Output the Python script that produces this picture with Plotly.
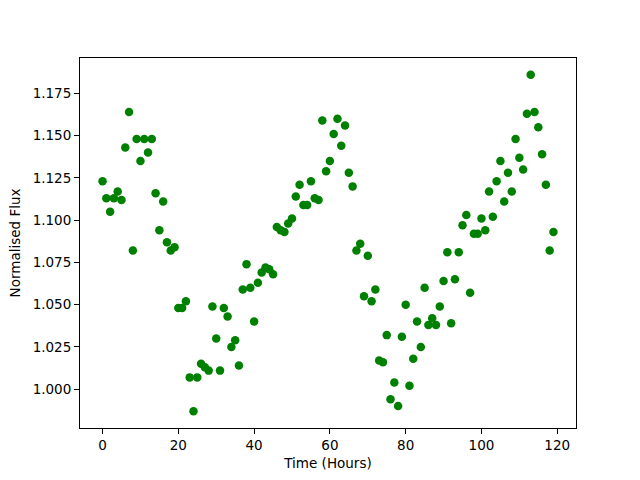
import plotly.graph_objects as go

hours = list(range(120))
flux = [
    1.123, 1.113, 1.105, 1.113, 1.117, 1.112, 1.143, 1.164, 1.082, 1.148,
    1.135, 1.148, 1.140, 1.148, 1.116, 1.094, 1.111, 1.087, 1.082, 1.084,
    1.048, 1.048, 1.052, 1.007, 0.987, 1.007, 1.015, 1.013, 1.011, 1.049,
    1.030, 1.011, 1.048, 1.043, 1.025, 1.029, 1.014, 1.059, 1.074, 1.060,
    1.040, 1.063, 1.069, 1.072, 1.071, 1.068, 1.096, 1.094, 1.093, 1.098,
    1.101, 1.114, 1.121, 1.109, 1.109, 1.123, 1.113, 1.112, 1.159, 1.129,
    1.135, 1.151, 1.160, 1.144, 1.156, 1.128, 1.120, 1.082, 1.086, 1.055,
    1.079, 1.052, 1.059, 1.017, 1.016, 1.032, 0.994, 1.004, 0.990, 1.031,
    1.050, 1.002, 1.018, 1.040, 1.025, 1.060, 1.038, 1.042, 1.038, 1.049,
    1.064, 1.081, 1.039, 1.065, 1.081, 1.097, 1.103, 1.057, 1.092, 1.092,
    1.101, 1.094, 1.117, 1.102, 1.123, 1.135, 1.111, 1.128, 1.117, 1.148,
    1.137, 1.130, 1.163, 1.186, 1.164, 1.155, 1.139, 1.121, 1.082, 1.093,
]
x_ticks = [0, 20, 40, 60, 80, 100, 120]
y_ticks = [1.000, 1.025, 1.050, 1.075, 1.100, 1.125, 1.150, 1.175]

xmin, xmax = min(hours), max(hours)
ymin, ymax = min(flux), max(flux)
xpad = (xmax - xmin) * 0.05
ypad = (ymax - ymin) * 0.05

fig = go.Figure(go.Scatter(
    x=hours, y=flux, mode="markers",
    marker=dict(color="#008000", size=8.5, line=dict(width=0)),
))

font = dict(family="DejaVu Sans", size=13.5, color="black")
axis_common = dict(
    showgrid=False, zeroline=False, showline=True, linecolor="black",
    linewidth=1, mirror=True, ticks="outside", ticklen=5, tickwidth=1,
    tickcolor="black", tickfont=font,
)
fig.update_xaxes(range=[xmin - xpad, xmax + xpad], tickvals=x_ticks,
                 title=dict(text="Time (Hours)", font=font, standoff=6),
                 **axis_common)
fig.update_yaxes(range=[ymin - ypad, ymax + ypad], tickvals=y_ticks,
                 tickformat=".3f",
                 title=dict(text="Normalised Flux", font=font, standoff=8),
                 **axis_common)
fig.update_layout(
    width=640, height=480, paper_bgcolor="white", plot_bgcolor="white",
    margin=dict(l=80, r=64, t=58, b=52), showlegend=False,
    font=font,
)
fig.write_html("out.html",
               config={"displayModeBar": False},
               post_script="document.body.style.margin='0';document.body.style.overflow='hidden';")
